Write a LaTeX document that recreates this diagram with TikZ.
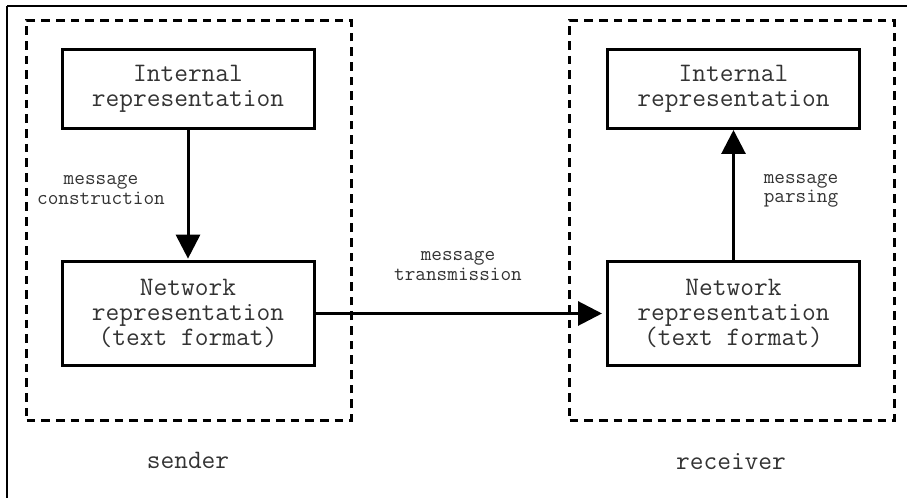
\documentclass[tikz,border=0pt]{standalone}
\usepackage{fontspec}
\usetikzlibrary{arrows.meta}

\tikzset{
  repbox/.style={draw, line width=2.25pt, minimum width=189pt, align=center, inner sep=0pt,
    text=black!80, font=\ttfamily\fontsize{20}{18.5}\selectfont},
  grpbox/.style={draw, line width=2.25pt, dash pattern=on 6.5pt off 4.5pt, minimum width=243.75pt,
    minimum height=300pt, inner sep=0pt},
  lbl/.style={align=center, inner sep=0pt, text=black!80, font=\ttfamily\fontsize{15.5}{14.6}\selectfont},
  sidelbl/.style={inner sep=0pt, text=black!80, font=\ttfamily\fontsize{20}{18.5}\selectfont},
  flow/.style={line width=2.25pt, -{Triangle[length=18pt,width=18pt]}}
}

\begin{document}
\begin{tikzpicture}[x=0.75pt,y=0.75pt,yscale=-1,xscale=1]
\useasboundingbox (0,0) rectangle (907,498);

%Frame lines
\draw [line width=1.8pt] (7,6) -- (907,6) ;
\draw [line width=1.8pt] (7,6) -- (7,498) ;

%Sender / receiver groups
\node [grpbox] (sendgrp) at (189,220.5) {};
\node [grpbox] (recvgrp) at (732,220.5) {};

%Boxes
\node [repbox, minimum height=59.25pt] (sintern) at (188,89) {Internal\\representation};
\node [repbox, minimum height=78pt] (snet) at (188,313.5) {Network\\representation\\(text format)};
\node [repbox, minimum height=59.25pt] (rintern) at (733.5,89) {Internal\\representation};
\node [repbox, minimum height=78pt] (rnet) at (733.5,313.5) {Network\\representation\\(text format)};

%Connectors
\draw [flow, shorten >=1pt] (sintern) -- (snet) ;
\draw [flow, shorten >=3pt] (snet) -- (rnet) ;
\draw [flow] (rnet) -- (rintern) ;

%Labels
\node [lbl] (lcons) at (101,190) {message\\construction};
\node [lbl] (ltrans) at (458,266) {message\\transmission};
\node [lbl] (lpars) at (801,191) {message\\parsing};
\node [sidelbl] (lsend) at (188,460) {sender};
\node [sidelbl] (lrecv) at (731,462) {receiver};

\end{tikzpicture}
\end{document}
